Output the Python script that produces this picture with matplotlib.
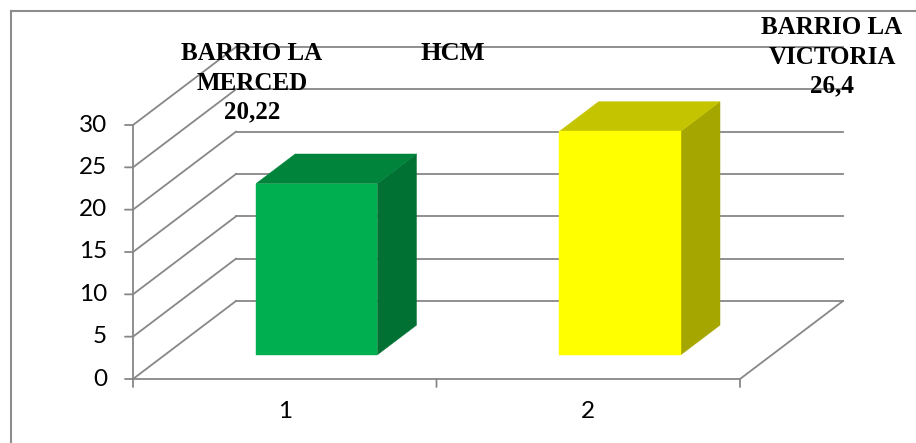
import matplotlib.pyplot as plt
from matplotlib.patches import Polygon
from matplotlib.lines import Line2D

# data
categorias = [1, 2]
barrios = ["BARRIO LA\nMERCED", "BARRIO LA\nVICTORIA"]
valores = [20.22, 26.4]
yticks = [0, 5, 10, 15, 20, 25, 30]
titulo = "HCM"

caras = [("#00B050", "#00843C", "#007033"),
         ("#FFFF00", "#C4C400", "#A6A600")]

W, H = 916, 443
fig = plt.figure(figsize=(W / 100, H / 100), dpi=100)
ax = fig.add_axes([0, 0, 1, 1])
ax.axis("off")

# pixel layout of the 3d box: front plane x 0.5..2.5 -> 133..740 px, y 0..30 -> 379..125 px
px_cat = (740 - 133) / 2.0
px_val = (379 - 125) / 30.0
ax.set_xlim(0.5 - 133 / px_cat, 0.5 + (W - 133) / px_cat)
ax.set_ylim(-(H - 379) / px_val, 379 / px_val)

# depth offset of the back wall, in data units
DX = 103 / px_cat
DY = 78 / px_val

gris = "#878787"
glw = 1.3
x0, x1 = 0.5, 2.5

# back wall gridlines + side wall diagonals
for v in yticks:
    ax.plot([x0 + DX, x1 + DX], [v + DY, v + DY], color=gris, lw=glw, zorder=1)
    ax.plot([x0, x0 + DX], [v, v + DY], color=gris, lw=glw, zorder=1)

# floor
ax.plot([x0, x1, x1 + DX], [0, 0, DY], color=gris, lw=glw, zorder=1)

# value axis
ax.plot([x0, x0], [0, yticks[-1]], color=gris, lw=glw, zorder=2)
for v in yticks:
    ax.annotate("", xy=(x0, v), xytext=(-8, 0), textcoords="offset pixels",
                arrowprops=dict(arrowstyle="-", color=gris, lw=glw,
                                shrinkA=0, shrinkB=0))
    ax.annotate(str(v), xy=(x0, v), xytext=(-26, 0), textcoords="offset pixels",
                ha="right", va="center", fontsize=17.5, family="Lato")

# category ticks and labels
for xt in [0.5, 1.5, 2.5]:
    ax.annotate("", xy=(xt, 0), xytext=(0, -8), textcoords="offset pixels",
                arrowprops=dict(arrowstyle="-", color=gris, lw=glw,
                                shrinkA=0, shrinkB=0))
for c in categorias:
    ax.annotate(str(c), xy=(c, 0), xytext=(0, -33), textcoords="offset pixels",
                ha="center", va="center", fontsize=17.5, family="Lato")

# 3d bars
w = 0.2
d0, d1 = 0.31, 0.69
for c, v, (cf, ct, cs) in zip(categorias, valores, caras):
    xl, xr = c - w, c + w
    fx, fy = d0 * DX, d0 * DY
    bx, by = d1 * DX, d1 * DY
    frente = [(xl + fx, fy), (xr + fx, fy), (xr + fx, v + fy), (xl + fx, v + fy)]
    tapa = [(xl + fx, v + fy), (xr + fx, v + fy), (xr + bx, v + by), (xl + bx, v + by)]
    lado = [(xr + fx, fy), (xr + bx, by), (xr + bx, v + by), (xr + fx, v + fy)]
    for pts, col in [(lado, cs), (tapa, ct), (frente, cf)]:
        ax.add_patch(Polygon(pts, closed=True, facecolor=col, edgecolor=col,
                             lw=0.3, zorder=3))

# labels
serif = dict(family="Liberation Serif", fontweight="bold", fontsize=18,
             ha="center", va="center", multialignment="center", linespacing=1.35)
etq_pos = [(252, 83), (832, 57)]
for (px, py), b, v in zip(etq_pos, barrios, valores):
    fig.text(px / W, 1 - py / H, b + "\n" + str(v).replace(".", ","), **serif)
fig.text(453 / W, 1 - 54 / H, titulo, **dict(serif, fontsize=19))

# chart border
borde = "#8c8c8c"
fig.add_artist(Line2D([11 / W, 11 / W], [0, 1 - 11 / H], color=borde, lw=1.5))
fig.add_artist(Line2D([11 / W, 1], [1 - 11 / H, 1 - 11 / H], color=borde, lw=1.5))

fig.savefig("out.png", dpi=100)
